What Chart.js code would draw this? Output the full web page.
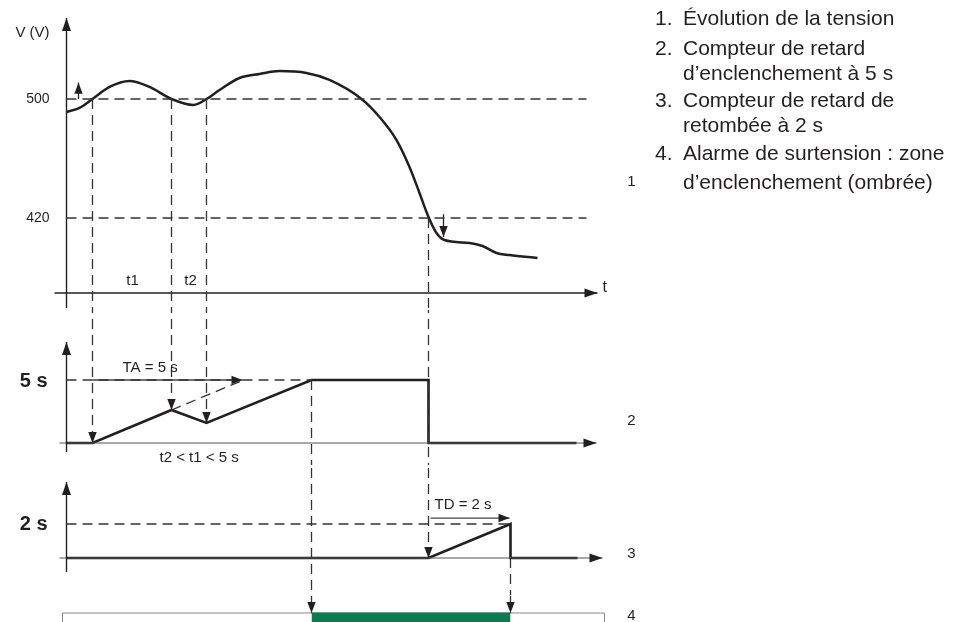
<!DOCTYPE html>
<html>
<head>
<meta charset="utf-8">
<script src="https://cdn.jsdelivr.net/npm/chart.js@4.4.0/dist/chart.umd.min.js"></script>
<style>
  body { margin: 0; background: #fff; }
  #wrap { position: relative; width: 965px; height: 622px; overflow: hidden; font-family: "Liberation Sans", Arial, sans-serif; color: #231f20; }
  canvas { position: absolute; left: 0; }
  .leg { position: absolute; font-size: 21px; line-height: 24px; white-space: nowrap; }
</style>
</head>
<body>
<div id="wrap">
  <canvas id="cV" width="965" height="310" style="top:0"></canvas>
  <canvas id="cA" width="965" height="155" style="top:310px"></canvas>
  <canvas id="cD" width="965" height="130" style="top:465px"></canvas>
  <canvas id="cAl" width="965" height="27" style="top:595px"></canvas>
  <div id="legend"></div>
</div>
<script>
// ---- data (time in arbitrary units, 0 = V axis) ----
const tensionT = [0, 1.3, 2.6, 4.3, 6.3, 8.3, 10.5, 12.7, 14.0, 15.3, 17.3, 19.3, 21.3, 24.0, 26.3, 29.5, 31.3, 33.0, 34.3, 35.3, 36.2, 37.0, 37.8, 40.3, 41.6, 43.0, 44.3, 47.1];
const tensionV = [491.3, 494, 500, 508.1, 512.1, 508.1, 500, 496, 500, 506, 514.1, 516.8, 518.8, 517.5, 512.8, 500, 487.9, 472.4, 454.3, 436.8, 420.7, 409.9, 405.2, 403.2, 401.2, 396.5, 395.1, 393.1];
const thresholds = [500, 420];

// event instants: up 500, down 500, up 500, TA reached, down 420, TD reached
const events = [2.6, 10.5, 14.0, 24.5, 36.2, 44.4];

const taT = [0, 2.6, 10.5, 14.0, 24.5, 36.2, 36.2, 51.0];
const taV = [0, 0, 2.62, 1.59, 5, 5, 0, 0];
const TA = 5;

const tdT = [0, 36.2, 44.4, 44.4, 51.1];
const tdV = [0, 0, 2, 0, 0];
const TD = 2;

const legendLines = [
  ['1.', 'Évolution de la tension'],
  ['2.', 'Compteur de retard'],
  ['', 'd’enclenchement à 5 s'],
  ['3.', 'Compteur de retard de'],
  ['', 'retombée à 2 s'],
  ['4.', 'Alarme de surtension : zone'],
  ['', 'd’enclenchement (ombrée)']
];
const legendY = [18, 48, 73, 100, 125, 153, 182];

const X_MIN = -6.65, X_MAX = 89.85;
const INK = '#231f20';
const FONT = '"Liberation Sans", Arial, sans-serif';

// ---- plugins ----
const arrowPlugin = {
  id: 'arrows',
  afterDatasetsDraw(chart) {
    const ctx = chart.ctx;
    chart.data.datasets.forEach((ds, i) => {
      if (!ds.arrow) return;
      const pts = chart.getDatasetMeta(i).data;
      const a = pts[pts.length - 2], b = pts[pts.length - 1];
      const ang = Math.atan2(b.y - a.y, b.x - a.x);
      ctx.save();
      ctx.fillStyle = ds.arrowColor || INK;
      ctx.translate(b.x, b.y);
      ctx.rotate(ang);
      ctx.beginPath();
      ctx.moveTo(0, 0);
      ctx.lineTo(-ds.arrow[0], -ds.arrow[1]);
      ctx.lineTo(-ds.arrow[0], ds.arrow[1]);
      ctx.closePath();
      ctx.fill();
      ctx.restore();
    });
  }
};

const notesPlugin = {
  id: 'notes',
  afterDraw(chart, args, opts) {
    const { ctx, scales: { x, y } } = chart;
    (opts.items || []).forEach(n => {
      ctx.save();
      ctx.font = n.font || ('15px ' + FONT);
      ctx.fillStyle = INK;
      ctx.textAlign = n.align || 'center';
      ctx.textBaseline = 'middle';
      ctx.fillText(n.text, x.getPixelForValue(n.x), y.getPixelForValue(n.y));
      ctx.restore();
    });
  }
};
Chart.register(arrowPlugin, notesPlugin);

// ---- helpers ----
function seg(xs, ys, style) {
  return Object.assign({
    data: xs.map((x, i) => ({ x, y: ys[i] })),
    showLine: true, pointRadius: 0, borderColor: INK, borderWidth: 1.2, tension: 0, fill: false
  }, style);
}
const DASH = { borderDash: [10, 6], borderColor: '#333', borderWidth: 1.3 };
const AXIS = { borderColor: INK, borderWidth: 1.4, arrow: [13, 4.5] };
const AXIS_T = { borderColor: '#555', borderWidth: 1.2, arrow: [13, 4.5] };
const SMALL = [11, 4.2];
const COUNTER = { borderColor: INK, borderWidth: 2.6 };
const dashArrow = () => Object.assign({}, DASH, { arrow: SMALL });

function makeChart(id, yMin, yMax, datasets, notes) {
  return new Chart(document.getElementById(id), {
    type: 'scatter',
    data: { datasets },
    options: {
      responsive: false, animation: false, devicePixelRatio: 1, events: [],
      layout: { padding: 0 },
      scales: {
        x: { type: 'linear', min: X_MIN, max: X_MAX, display: false },
        y: { type: 'linear', min: yMin, max: yMax, display: false }
      },
      plugins: { legend: { display: false }, tooltip: { enabled: false }, notes: { items: notes } }
    }
  });
}

const [e1, e2, e3, eTA, eFall, eTD] = events;

// ---- 1. tension ----
makeChart('cV', 358.15, 566.55, [
  seg([0, 52], [thresholds[0], thresholds[0]], DASH),
  seg([0, 52], [thresholds[1], thresholds[1]], DASH),
  seg([e1, e1], [thresholds[0], 300], DASH),
  seg([e2, e2], [thresholds[0], 300], DASH),
  seg([e3, e3], [thresholds[0], 300], DASH),
  seg([eFall, eFall], [thresholds[1], 300], DASH),
  seg([0, 0], [359.5, 554.5], AXIS),
  seg([-1.2, 53.1], [369.6, 369.6], AXIS),
  seg(tensionT, tensionV, { borderWidth: 2.5, cubicInterpolationMode: 'monotone' }),
  seg([1.2, 1.2], [thresholds[0], 511], { borderWidth: 1.3, arrow: SMALL }),
  seg([37.7, 37.7], [422.5, 407.2], { borderWidth: 1.3, arrow: SMALL })
], [
  { text: 'V (V)', x: -3.4, y: 544.4, font: '15px ' + FONT },
  { text: '500', x: -1.7, y: 500, align: 'right', font: '14px ' + FONT },
  { text: '420', x: -1.7, y: 420, align: 'right', font: '14px ' + FONT },
  { text: 't1', x: 6.6, y: 377.6 },
  { text: 't2', x: 12.4, y: 377.6 },
  { text: 't', x: 53.6, y: 372.9, align: 'left', font: '16px ' + FONT },
  { text: '1', x: 56.5, y: 444.2 }
]);

// ---- 2. compteur TA ----
makeChart('cA', -1.746, 10.556, [
  seg([0, eTA], [TA, TA], DASH),
  seg([e2, 17.7], [taV[2], TA], DASH),
  seg([e1, e1], [20, 0], dashArrow()),
  seg([e2, e2], [20, taV[2]], dashArrow()),
  seg([e3, e3], [20, taV[3]], dashArrow()),
  seg([eTA, eTA], [TA, -5], DASH),
  seg([eFall, eFall], [20, -5], DASH),
  seg([0, 0], [-0.714, 8.016], AXIS),
  seg([-0.7, 53], [0, 0], AXIS_T),
  seg([e1, 17.6], [TA, TA], { borderColor: '#444', borderWidth: 1.3, arrow: SMALL }),
  seg(taT, taV, COUNTER)
], [
  { text: '5 s', x: -1.9, y: 4.92, align: 'right', font: 'bold 20px ' + FONT },
  { text: 'TA = 5 s', x: 5.6, y: 5.95, align: 'left' },
  { text: 't2 < t1 < 5 s', x: 9.3, y: -1.19, align: 'left' },
  { text: '2', x: 56.5, y: 1.75 }
]);

// ---- 3. compteur TD ----
makeChart('cD', -2.176, 5.47, [
  seg([0, eTD], [TD, TD], DASH),
  seg([eTA, eTA], [10, -5], DASH),
  seg([eFall, eFall], [10, 0], dashArrow()),
  seg([eTD, eTD], [0, -5], DASH),
  seg([0, 0], [-0.82, 4.47], AXIS),
  seg([-0.7, 53.6], [0, 0], AXIS_T),
  seg([36.4, 44.3], [2.35, 2.35], { borderColor: '#444', borderWidth: 1.3, arrow: SMALL }),
  seg(tdT, tdV, COUNTER)
], [
  { text: '2 s', x: -1.9, y: TD, align: 'right', font: 'bold 20px ' + FONT },
  { text: 'TD = 2 s', x: 36.8, y: 3.12, align: 'left' },
  { text: '3', x: 56.5, y: 0.235 }
]);

// ---- 4. alarme ----
makeChart('cAl', 0, 3, [
  seg([eTA, eTD], [1, 1], { borderColor: '#0e7a4f', borderWidth: 1, fill: 'start', backgroundColor: '#0e7a4f' }),
  seg([-0.4, -0.4, 53.8, 53.8], [-1, 1, 1, -1], { borderColor: '#888', borderWidth: 1 }),
  seg([eTA, eTA], [10, 1], dashArrow()),
  seg([eTD, eTD], [10, 1], dashArrow())
], [
  { text: '4', x: 56.5, y: 0.667 }
]);

// ---- legend text ----
const leg = document.getElementById('legend');
legendLines.forEach((l, i) => {
  if (l[0]) {
    const n = document.createElement('div');
    n.className = 'leg'; n.textContent = l[0];
    n.style.left = '655px'; n.style.top = (legendY[i] - 12) + 'px';
    leg.appendChild(n);
  }
  const d = document.createElement('div');
  d.className = 'leg'; d.textContent = l[1];
  d.style.left = '683px'; d.style.top = (legendY[i] - 12) + 'px';
  leg.appendChild(d);
});
</script>
</body>
</html>
